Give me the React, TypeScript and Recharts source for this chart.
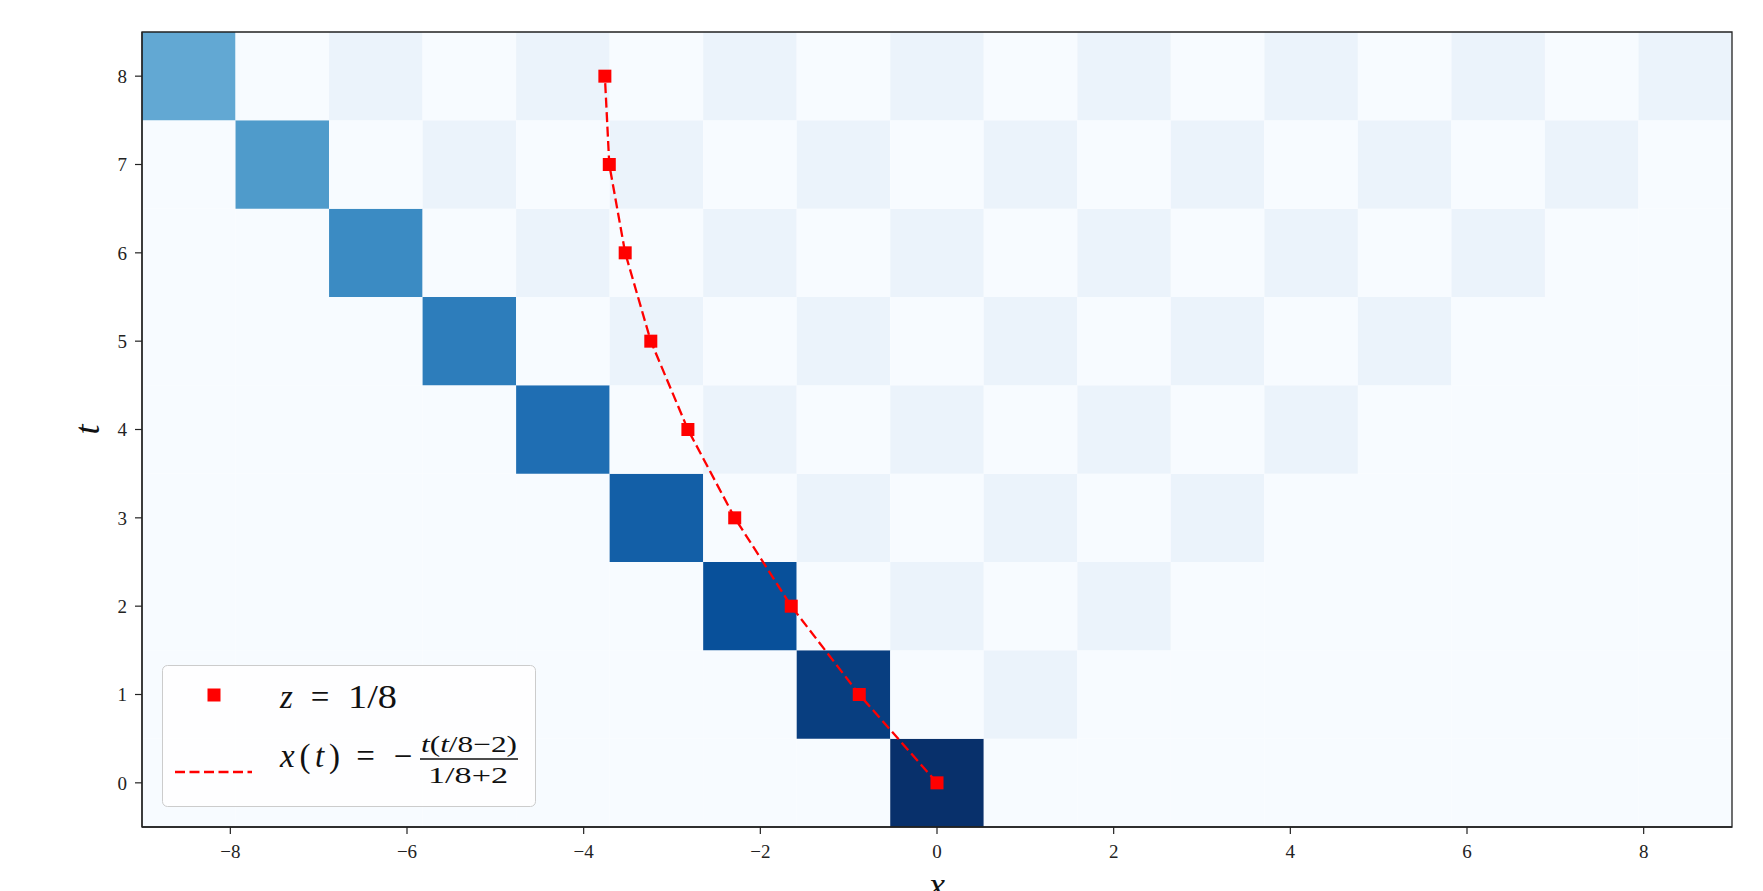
import React from 'react';
import { ScatterChart, Scatter, XAxis, YAxis, ReferenceArea, Legend } from 'recharts';

// ---- data ----
const tValues = [0, 1, 2, 3, 4, 5, 6, 7, 8];
const xPositions = [0, -0.88, -1.65, -2.29, -2.82, -3.24, -3.53, -3.71, -3.76];
const xTicks = [-8, -6, -4, -2, 0, 2, 4, 6, 8];
const tTicks = [0, 1, 2, 3, 4, 5, 6, 7, 8];
const xExtent: [number, number] = [-9, 9];
const tExtent: [number, number] = [-0.5, 8.5];
const rowT = [0, 1, 2, 3, 4, 5, 6, 7, 8];
// heat map intensities (0..1), one row per t, 17 columns left to right
const heatRow0 = [0, 0, 0, 0, 0, 0, 0, 0, 1, 0, 0, 0, 0, 0, 0, 0, 0];
const heatRow1 = [0, 0, 0, 0, 0, 0, 0, 0.947, 0, 0.06, 0, 0, 0, 0, 0, 0, 0];
const heatRow2 = [0, 0, 0, 0, 0, 0, 0.88, 0, 0.06, 0, 0.06, 0, 0, 0, 0, 0, 0];
const heatRow3 = [0, 0, 0, 0, 0, 0.82, 0, 0.06, 0, 0.06, 0, 0.06, 0, 0, 0, 0, 0];
const heatRow4 = [0, 0, 0, 0, 0.76, 0, 0.06, 0, 0.06, 0, 0.06, 0, 0.06, 0, 0, 0, 0];
const heatRow5 = [0, 0, 0, 0.705, 0, 0.06, 0, 0.06, 0, 0.06, 0, 0.06, 0, 0.06, 0, 0, 0];
const heatRow6 = [0, 0, 0.65, 0, 0.06, 0, 0.06, 0, 0.06, 0, 0.06, 0, 0.06, 0, 0.06, 0, 0];
const heatRow7 = [0, 0.585, 0, 0.06, 0, 0.06, 0, 0.06, 0, 0.06, 0, 0.06, 0, 0.06, 0, 0.06, 0];
const heatRow8 = [0.527, 0, 0.06, 0, 0.06, 0, 0.06, 0, 0.06, 0, 0.06, 0, 0.06, 0, 0.06, 0, 0.06];
const heatRows = [heatRow0, heatRow1, heatRow2, heatRow3, heatRow4, heatRow5, heatRow6, heatRow7, heatRow8];

const points = tValues.map((t, i) => ({ t, x: xPositions[i] }));

// ---- styling helpers ----
const BLUES = [
  [247, 251, 255], [222, 235, 247], [198, 219, 239], [158, 202, 225], [107, 174, 214],
  [66, 146, 198], [33, 113, 181], [8, 81, 156], [8, 48, 107],
];
function blues(v: number): string {
  const p = Math.max(0, Math.min(1, v)) * 8;
  const i = Math.min(7, Math.floor(p));
  const f = p - i;
  const a = BLUES[i], b = BLUES[i + 1];
  const c = a.map((ai, k) => Math.round(ai + (b[k] - ai) * f));
  return `rgb(${c[0]},${c[1]},${c[2]})`;
}

const SERIF = "'Liberation Serif', serif";
const AXIS = '#222';
const fmt = (v: number) => (v < 0 ? `\u2212${Math.abs(v)}` : `${v}`);

const SquareMarker = (props: any) => {
  const { cx, cy } = props;
  if (cx == null || cy == null) return null;
  return <rect x={cx - 6.5} y={cy - 6.5} width={13} height={13} fill="#ff0000" />;
};

const XLabel = (props: any) => {
  const vb = props.viewBox || {};
  return (
    <text x={vb.x + vb.width / 2} y={vb.y + 70} textAnchor="middle" fontSize={36} fontStyle="italic" style={{ fontFamily: SERIF }} fill="#111">
      x
    </text>
  );
};

const YLabel = (props: any) => {
  const vb = props.viewBox || {};
  const cx = vb.x + 5;
  const cy = vb.y + vb.height / 2;
  return (
    <text x={cx} y={cy} transform={`rotate(-90 ${cx} ${cy})`} textAnchor="middle" dominantBaseline="central" fontSize={36} fontStyle="italic" style={{ fontFamily: SERIF }} fill="#111">
      t
    </text>
  );
};

const LegendBox = () => (
  <svg width={376} height={144} style={{ display: 'block', overflow: 'visible', fontFamily: SERIF }}>
    <rect x={0.5} y={0.5} width={373} height={141} rx={5} fill="rgba(255,255,255,0.8)" stroke="#cccccc" strokeWidth={1} />
    {/* marker entry */}
    <rect x={45.5} y={23.5} width={13} height={13} fill="#ff0000" />
    <text x={118} y={43} fontSize={33} fontStyle="italic" fill="#111">z</text>
    <text x={158} y={43} fontSize={33} textAnchor="middle" fill="#111">=</text>
    <text x={186} y={43} fontSize={33} fill="#111" textLength={49} lengthAdjust="spacingAndGlyphs">1/8</text>
    {/* line entry */}
    <line x1={13} y1={107} x2={90} y2={107} stroke="#ff0000" strokeWidth={2.3} strokeDasharray="10 4.5" />
    <text x={118} y={102} fontSize={33} fill="#111" textLength={60} lengthAdjust="spacing">
      <tspan fontStyle="italic">x</tspan>(<tspan fontStyle="italic">t</tspan>)
    </text>
    <text x={203.5} y={102} fontSize={33} textAnchor="middle" fill="#111">=</text>
    <text x={241} y={102} fontSize={33} textAnchor="middle" fill="#111">{'\u2212'}</text>
    <line x1={258} y1={94} x2={356} y2={94} stroke="#111" strokeWidth={1.3} />
    <text x={307} y={87} fontSize={23} textAnchor="middle" fill="#111" textLength={96} lengthAdjust="spacingAndGlyphs">
      <tspan fontStyle="italic">t</tspan>(<tspan fontStyle="italic">t</tspan>/8{'\u2212'}2)
    </text>
    <text x={306} y={118} fontSize={23} textAnchor="middle" fill="#111" textLength={80} lengthAdjust="spacingAndGlyphs">1/8+2</text>
  </svg>
);

export default function App() {
  const nCols = heatRows[0].length;
  const cellW = (xExtent[1] - xExtent[0]) / nCols;
  const cells: React.ReactNode[] = [];
  heatRows.forEach((row, r) => {
    row.forEach((v, c) => {
      cells.push(
        <ReferenceArea
          key={`c-${r}-${c}`}
          x1={xExtent[0] + c * cellW}
          x2={xExtent[0] + (c + 1) * cellW}
          y1={rowT[r] - 0.5}
          y2={rowT[r] + 0.5}
          fill={blues(v)}
          fillOpacity={1}
          stroke="none"
          ifOverflow="visible"
        />
      );
    });
  });

  const tickStyle = { fontSize: 19, fill: AXIS, fontFamily: SERIF, style: { fontFamily: SERIF } };

  return (
    <div style={{ width: 1755, height: 883, fontFamily: SERIF }}>
      <ScatterChart width={1755} height={883} margin={{ top: 24, right: 31, bottom: 4, left: 74 }} style={{ fontFamily: SERIF }}>
        <XAxis
          type="number"
          dataKey="x"
          domain={xExtent}
          ticks={xTicks}
          allowDataOverflow
          height={60}
          tickSize={7}
          tickMargin={11}
          axisLine={{ stroke: AXIS, strokeWidth: 1.3 }}
          tickLine={{ stroke: AXIS, strokeWidth: 1.2 }}
          tick={tickStyle}
          tickFormatter={fmt}
          label={{ content: XLabel }}
        />
        <YAxis
          type="number"
          dataKey="t"
          domain={tExtent}
          ticks={tTicks}
          allowDataOverflow
          width={60}
          tickSize={7}
          tickMargin={8}
          axisLine={{ stroke: AXIS, strokeWidth: 1.3 }}
          tickLine={{ stroke: AXIS, strokeWidth: 1.2 }}
          tick={tickStyle}
          tickFormatter={fmt}
          label={{ content: YLabel }}
        />
        {cells}
        <ReferenceArea x1={xExtent[0]} x2={xExtent[1]} y1={tExtent[0]} y2={tExtent[1]} fill="none" fillOpacity={0} stroke={AXIS} strokeWidth={1.3} ifOverflow="visible" />
        <Scatter
          name="z = 1/8"
          data={points}
          fill="#ff0000"
          isAnimationActive={false}
          line={{ stroke: '#ff0000', strokeWidth: 2.3, strokeDasharray: '10 4.5' }}
          lineType="joint"
          shape={SquareMarker}
        />
        <Legend
          layout="horizontal"
          verticalAlign="middle"
          align="center"
          content={() => <LegendBox />}
          wrapperStyle={{ left: 154, top: 657, width: 376, height: 144 }}
        />
      </ScatterChart>
    </div>
  );
}
